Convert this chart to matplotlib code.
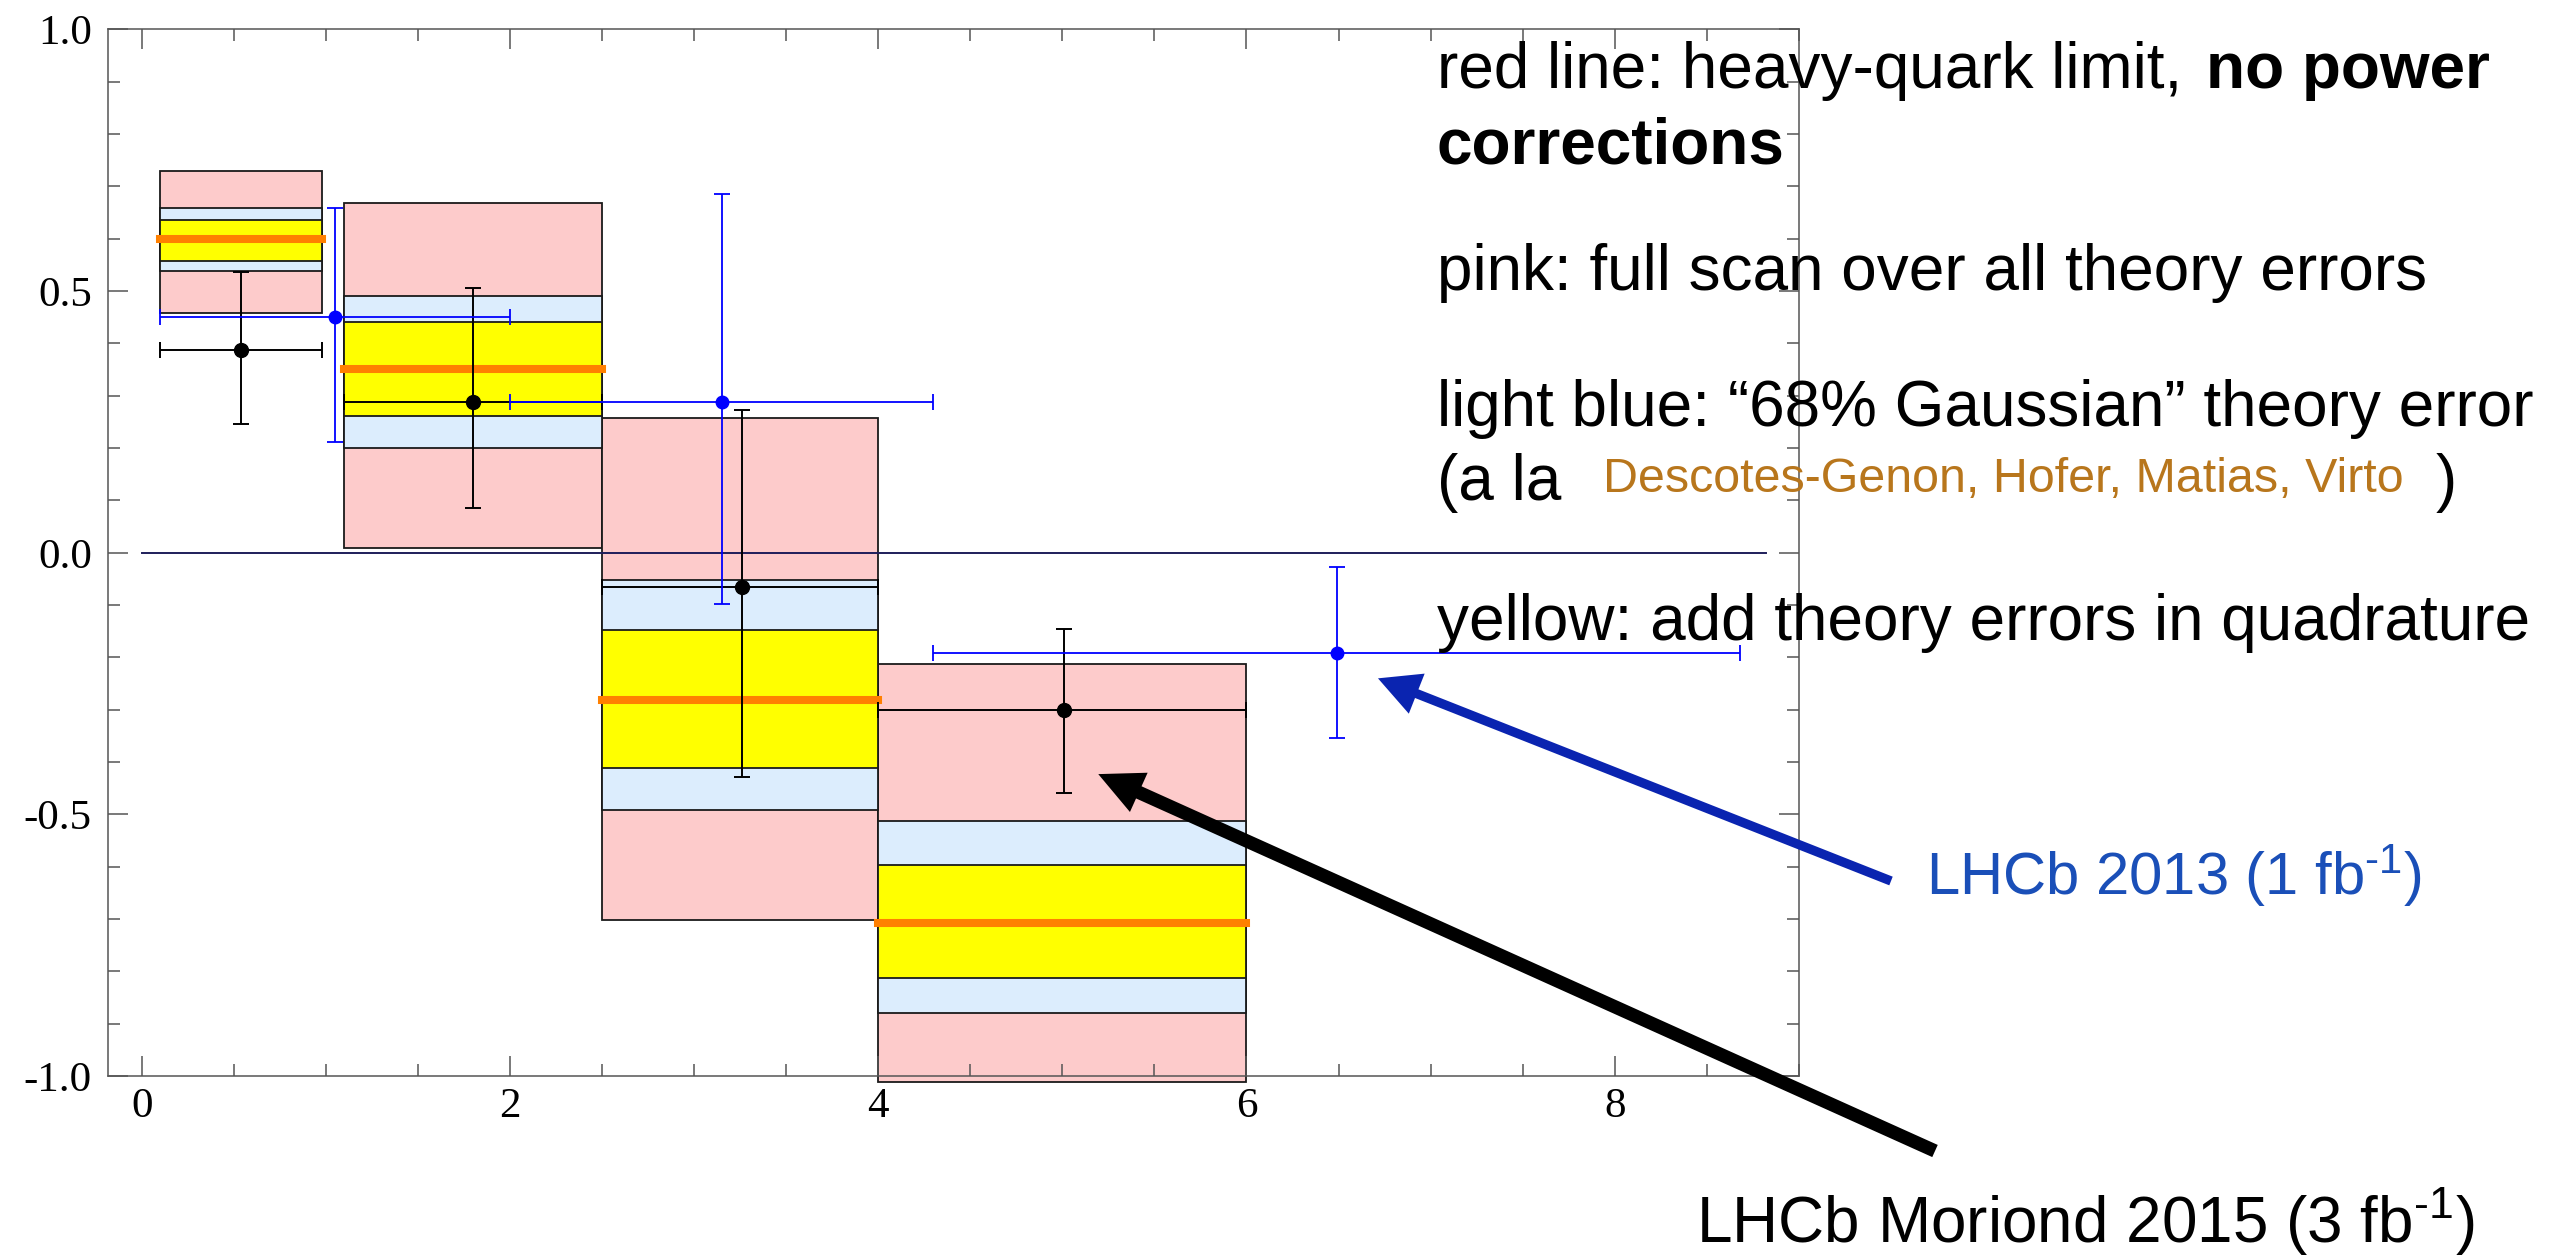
import matplotlib
matplotlib.use("Agg")
import matplotlib.pyplot as plt
from matplotlib.patches import Rectangle
from matplotlib.ticker import MultipleLocator, FormatStrFormatter

plt.rcParams["axes.unicode_minus"] = False
plt.rcParams["mathtext.fontset"] = "custom"
plt.rcParams["mathtext.rm"] = "Liberation Sans"
plt.rcParams["mathtext.it"] = "Liberation Sans:italic"
plt.rcParams["mathtext.bf"] = "Liberation Sans:bold"

# theory bins in q^2 (GeV^2)
bin_lo = [0.1, 1.1, 2.5, 4.0]
bin_hi = [0.98, 2.5, 4.0, 6.0]

# heavy-quark limit, no power corrections
central = [0.600, 0.352, -0.282, -0.708]
# full scan over all theory errors
pink_lo = [0.459, 0.010, -0.701, -1.011]
pink_hi = [0.729, 0.669, 0.257, -0.212]
# "68% Gaussian" theory error
lblue_lo = [0.539, 0.200, -0.491, -0.880]
lblue_hi = [0.659, 0.490, -0.052, -0.512]
# theory errors added in quadrature
yel_lo = [0.558, 0.262, -0.411, -0.812]
yel_hi = [0.636, 0.441, -0.148, -0.596]

# LHCb Moriond 2015 (3 fb^-1)
lhcb15_x = [0.54, 1.80, 3.26, 5.01]
lhcb15_y = [0.387, 0.289, -0.066, -0.300]
lhcb15_hi = [0.536, 0.506, 0.273, -0.145]
lhcb15_lo = [0.246, 0.086, -0.428, -0.459]

# LHCb 2013 (1 fb^-1)
lhcb13_bin_lo = [0.1, 2.0, 4.3]
lhcb13_bin_hi = [2.0, 4.3, 8.68]
lhcb13_x = [1.05, 3.15, 6.49]
lhcb13_y = [0.450, 0.289, -0.191]
lhcb13_hi = [0.659, 0.686, -0.028]
lhcb13_lo = [0.212, -0.098, -0.354]

PINK = "#fdcbcb"
LBLUE = "#dcedfd"
YELLOW = "#ffff00"
ORANGE = "#ff8000"

fig = plt.figure(figsize=(25.71, 12.6), dpi=100)
ax = fig.add_axes([0.0422, 0.146, 0.6575, 0.8306])
ax.set_xlim(-0.18, 9.0)
ax.set_ylim(-1.0, 1.0)

for lo_list, hi_list, col in [(pink_lo, pink_hi, PINK),
                              (lblue_lo, lblue_hi, LBLUE),
                              (yel_lo, yel_hi, YELLOW)]:
    for a, b, lo, hi in zip(bin_lo, bin_hi, lo_list, hi_list):
        ax.add_patch(Rectangle((a, lo), b - a, hi - lo, facecolor=col,
                               edgecolor="#1a1a1a", lw=1.3, zorder=1,
                               clip_on=False))

for a, b, c in zip(bin_lo, bin_hi, central):
    ax.plot([a, b], [c, c], color=ORANGE, lw=5.8,
            solid_capstyle="projecting", zorder=2)

ax.plot([0, 8.82], [0, 0], color="#1e1e5a", lw=1.4, zorder=2)

# experimental points
xe15 = [[x - a for x, a in zip(lhcb15_x, bin_lo)],
        [b - x for x, b in zip(lhcb15_x, bin_hi)]]
ye15 = [[y - l for y, l in zip(lhcb15_y, lhcb15_lo)],
        [h - y for y, h in zip(lhcb15_y, lhcb15_hi)]]
ax.errorbar(lhcb15_x, lhcb15_y, xerr=xe15, yerr=ye15, fmt="o", color="black",
            ms=10, lw=1.4, capsize=6, capthick=1.4, zorder=4)

xe13 = [[x - a for x, a in zip(lhcb13_x, lhcb13_bin_lo)],
        [b - x for x, b in zip(lhcb13_x, lhcb13_bin_hi)]]
ye13 = [[y - l for y, l in zip(lhcb13_y, lhcb13_lo)],
        [h - y for y, h in zip(lhcb13_y, lhcb13_hi)]]
ax.errorbar(lhcb13_x, lhcb13_y, xerr=xe13, yerr=ye13, fmt="o", color="#0000ff",
            ms=9, lw=1.3, capsize=5.5, capthick=1.3, zorder=5)

# frame and ticks
for sp in ax.spines.values():
    sp.set_color("#555555")
    sp.set_linewidth(1.1)
ax.xaxis.set_major_locator(MultipleLocator(2))
ax.xaxis.set_minor_locator(MultipleLocator(0.5))
ax.yaxis.set_major_locator(MultipleLocator(0.5))
ax.yaxis.set_minor_locator(MultipleLocator(0.1))
ax.yaxis.set_major_formatter(FormatStrFormatter("%.1f"))
ax.tick_params(which="both", direction="in", top=True, right=True,
               color="#555555", width=1.1, labelsize=31,
               labelfontfamily="Liberation Serif")
ax.tick_params(which="major", length=14.4)
ax.tick_params(which="minor", length=8.6)
ax.tick_params(axis="y", pad=12)
ax.tick_params(axis="x", pad=8)

# explanatory text on the right
W, H = 2571, 1260
sans = "Liberation Sans"
tx = 1437 / W
fig.text(tx, 1 - 88 / H, "red line: heavy-quark limit, ", fontsize=46,
         family=sans, va="baseline")
fig.text(2206 / W, 1 - 88 / H, "no power", fontsize=46, family=sans,
         weight="bold", va="baseline")
fig.text(tx, 1 - 163 / H, "corrections", fontsize=46, family=sans,
         weight="bold", va="baseline")
fig.text(tx, 1 - 290 / H, "pink: full scan over all theory errors",
         fontsize=46, family=sans, va="baseline")
fig.text(tx, 1 - 426 / H, "light blue: \u201c68% Gaussian\u201d theory error",
         fontsize=46, family=sans, va="baseline")
fig.text(tx, 1 - 500 / H, "(a la", fontsize=46, family=sans, va="baseline")
fig.text(1603 / W, 1 - 492 / H, "Descotes-Genon, Hofer, Matias, Virto",
         fontsize=34.8, family=sans, color="#b8761c", va="baseline")
fig.text(2436 / W, 1 - 500 / H, ")", fontsize=46, family=sans, va="baseline")
fig.text(tx, 1 - 640 / H, "yellow: add theory errors in quadrature",
         fontsize=46, family=sans, va="baseline")

fig.text(1926 / W, 1 - 895 / H, "LHCb 2013 (1 fb$^{\\text{-1}}$)", fontsize=43,
         family=sans, color="#1a4fb8", va="baseline")
fig.text(1696 / W, 1 - 1243 / H, "LHCb Moriond 2015 (3 fb$^{\\text{-1}}$)",
         fontsize=46, family=sans, color="black", va="baseline")

# arrows pointing at the data
ax.annotate("", xy=(6.714, -0.240), xycoords="data",
            xytext=(1891 / W, 1 - 881 / H), textcoords="figure fraction",
            arrowprops=dict(arrowstyle="simple,head_length=30,head_width=31,tail_width=6.7",
                            mutation_scale=1, facecolor="#0a24b0", lw=0,
                            shrinkA=0, shrinkB=0),
            annotation_clip=False, zorder=6)
ax.annotate("", xy=(5.195, -0.423), xycoords="data",
            xytext=(1935 / W, 1 - 1151 / H), textcoords="figure fraction",
            arrowprops=dict(arrowstyle="simple,head_length=32,head_width=31,tail_width=9.6",
                            mutation_scale=1, facecolor="black", lw=0,
                            shrinkA=0, shrinkB=0),
            annotation_clip=False, zorder=6)

fig.savefig("out.png", dpi=100)
